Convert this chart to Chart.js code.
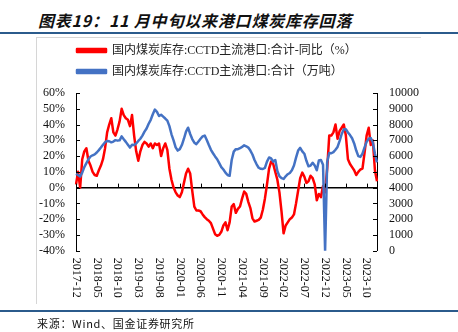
<!DOCTYPE html>
<html>
<head>
<meta charset="utf-8">
<script src="https://cdn.jsdelivr.net/npm/chart.js@4.4.1/dist/chart.umd.min.js"></script>
<style>
  html, body { margin: 0; padding: 0; background: #fff; }
  #wrap { position: relative; width: 458px; height: 332px; overflow: hidden; background: #fff; }
  #c { position: absolute; left: 0; top: 0; }
  .title { position: absolute; left: 38px; top: 11px; font: italic bold 16px "Noto Sans CJK SC"; line-height: 18px; letter-spacing: 0.8px; color: #111; white-space: nowrap; }
  .rule { position: absolute; left: 0; width: 458px; height: 2px; background: #2b5b8c; }
  .frameTop { position: absolute; left: 36px; top: 37px; width: 385px; height: 1px; background: #d6d6d6; }
  .frameLeft { position: absolute; left: 36px; top: 37px; width: 1px; height: 267px; background: #d6d6d6; }
  .src { position: absolute; left: 37px; top: 315px; font: 11px "Noto Sans CJK SC"; line-height: 16px; letter-spacing: 0.7px; color: #111; white-space: nowrap; }
</style>
</head>
<body>
<div id="wrap">
  <div class="title">图表19：11 月中旬以来港口煤炭库存回落</div>
  <div class="rule" style="top:32px"></div>
  <div class="frameTop"></div>
  <div class="frameLeft"></div>
  <canvas id="c" width="458" height="332"></canvas>
  <div class="rule" style="top:310px"></div>
  <div class="src">来源：Wind、国金证券研究所</div>
</div>
<script>
// ---- data (half-month periods, 2017-12 .. 2023-12) ----
const legendNames = ['国内煤炭库存:CCTD主流港口:合计-同比（%）', '国内煤炭库存:CCTD主流港口:合计（万吨）'];
const tickLabels = ['2017-12','2018-05','2018-10','2019-03','2019-08','2020-01','2020-06','2020-11','2021-04','2021-09','2022-02','2022-07','2022-12','2023-05','2023-10'];

const periods = [];
for (let y = 2017, m = 12; y < 2024; ) {
  const ym = y + '-' + String(m).padStart(2, '0');
  periods.push(ym + '上', ym + '下');
  m++; if (m > 12) { m = 1; y++; }
}

// 同比 (%)
const yoyPct = [
  2, 10, 0, 18, 23, 25, 17, 14, 10, 8, 7.5, 11,
  14, 18, 25, 35, 40, 44, 35, 33, 37, 42, 50, 46,
  44, 43, 39, 46, 33, 23, 17, 23, 27, 29, 28, 26,
  28, 25, 28, 27, 28, 20, 25, 28, 24, 12, 5, 0,
  -3, -5, -6, -3, 3, 9, 12, 9, -2, -12, -14.5, -14.5,
  -15, -17, -18.7, -20, -21, -22.5, -26, -29.5, -30.5, -30, -28, -24,
  -22, -27, -22, -12, -10.5, -16, -13.5, -12, -7, -2.5, -4, -9,
  -13, -19.5, -21.5, -21, -20.5, -19, -14, -7, 2, 12, 16.5, 15,
  10, 5, -3, -15, -29, -24, -22, -20, -19, -17, -10, -2,
  6, 9.5, 7, 3, 4, 7.5, 6, 2, -8, -4, -6, 1,
  -3, 12, 33, 33, 35, 40, 31, 36, 38, 40, 33, 18,
  15, 13, 11, 8, 10, 11.5, 12, 22, 33, 38, 27, 30,
  11, 4
];

// 库存 (万吨)
const stockWanTon = [
  4868, 4800, 4700, 4950, 5300, 5550, 5800, 5970, 6050, 6110, 6230, 6380,
  6540, 6720, 6880, 6960, 6940, 6870, 6920, 7010, 6980, 7000, 7250, 7070,
  6900, 6720, 6540, 6720, 6700, 6800, 6960, 7100, 7300, 7550, 7750, 8050,
  8300, 8650, 8950, 8800, 8540, 8620, 8500, 8380, 8250, 7900, 7380, 7000,
  6550, 6350, 6440, 6700, 7100, 7550, 7800, 7400, 7080, 6850, 6760, 6930,
  7100, 7250, 7300, 7020, 6700, 6400, 6180, 5980, 5800, 5550, 5300, 5150,
  4950, 4800, 4750, 5750, 6280, 6440, 6440, 6500, 6580, 6680, 6620, 6540,
  6350, 6100, 5750, 5480, 5260, 5190, 5180, 5250, 5650, 5910, 5850, 5650,
  5750, 5050, 4720, 4600, 4550, 4720, 4850, 4930, 5100, 5400, 5900, 6350,
  6520, 6300, 6150, 5700, 5350, 5400, 5580, 5400, 5100, 5720, 5750, 5450,
  0, 5620, 6200, 6180, 6250, 6400, 6580, 6960, 7400, 7700, 7700, 7500,
  7330, 7130, 6800, 6350, 6000, 5950, 6150, 6550, 6900, 7100, 7150, 6860,
  6150, 5600
];

const tickFont = { family: '"Liberation Serif", "Noto Sans CJK SC"', size: 12 };
const legendExtra = 5.5;
const legendIndent = 68;

const legendGap = {
  id: 'legendGap',
  beforeUpdate(chart) {
    const lg = chart.legend;
    if (lg && !lg._gapPatched) {
      const fit = lg.fit;
      lg.fit = function () { fit.call(this); this.height += legendExtra; };
      lg._gapPatched = true;
    }
  },
  afterLayout(chart) {
    if (chart.legend) chart.legend.left += legendIndent;
  }
};

const tickMarks = {
  id: 'tickMarks',
  afterDatasetsDraw(chart) {
    const { ctx, scales: { x, y, y1 } } = chart;
    ctx.save();
    ctx.strokeStyle = '#000';
    ctx.lineWidth = 1;
    ctx.beginPath();
    y.ticks.forEach(t => {
      const py = Math.round(y.getPixelForValue(t.value)) + 0.5;
      ctx.moveTo(y.right, py); ctx.lineTo(y.right + 4, py);
    });
    y1.ticks.forEach(t => {
      const py = Math.round(y1.getPixelForValue(t.value)) + 0.5;
      ctx.moveTo(y1.left - 4, py); ctx.lineTo(y1.left, py);
    });
    const y0 = y.getPixelForValue(0);
    tickLabels.forEach(l => {
      const px = Math.round(x.getPixelForValue(periods.indexOf(l + '上'))) + 0.5;
      ctx.moveTo(px, y0 - 4); ctx.lineTo(px, y0);
    });
    ctx.stroke();
    ctx.restore();
  }
};

const xLabels = {
  id: 'xLabels',
  afterDraw(chart) {
    const { ctx, scales: { x }, chartArea } = chart;
    ctx.save();
    ctx.font = '12px "Liberation Serif"';
    ctx.fillStyle = '#111';
    ctx.textAlign = 'left';
    ctx.textBaseline = 'middle';
    tickLabels.forEach(l => {
      const px = x.getPixelForValue(periods.indexOf(l + '上'));
      ctx.save();
      ctx.translate(px, chartArea.bottom + 7);
      ctx.rotate(Math.PI / 2);
      ctx.fillText(l, 0, 0);
      ctx.restore();
    });
    ctx.restore();
  }
};

new Chart(document.getElementById('c'), {
  type: 'line',
  data: {
    labels: periods,
    datasets: [
      { label: legendNames[0], data: yoyPct, yAxisID: 'y', borderColor: '#FF0000', backgroundColor: '#FF0000',
        borderWidth: 2.5, pointRadius: 0, tension: 0, borderJoinStyle: 'round', order: 1 },
      { label: legendNames[1], data: stockWanTon, yAxisID: 'y1', borderColor: '#4472C4', backgroundColor: '#4472C4',
        borderWidth: 2.5, pointRadius: 0, tension: 0, borderJoinStyle: 'round', order: 0 }
    ]
  },
  options: {
    responsive: false,
    animation: false,
    devicePixelRatio: 1,
    layout: { padding: { top: 35.5, left: 0, right: 0, bottom: 0 } },
    plugins: {
      legend: {
        display: true, position: 'top', align: 'start',
        labels: {
          boxWidth: 29, boxHeight: 3, padding: 9, color: '#222',
          font: { family: '"Liberation Serif", "Noto Sans CJK SC"', size: 12 },
          sort: (a, b) => a.datasetIndex - b.datasetIndex
        }
      },
      tooltip: { enabled: false }
    },
    scales: {
      x: {
        type: 'category', offset: false,
        ticks: { display: false }, grid: { display: false }, border: { display: false },
        afterFit(s) { s.height = 81.3; }
      },
      y: {
        position: 'left', min: -40, max: 60,
        ticks: { stepSize: 10, autoSkip: false, padding: 11, color: '#111', font: tickFont, callback: v => v + '%' },
        grid: { color: c => (c.tick && c.tick.value === 0) ? '#000' : 'rgba(0,0,0,0)', lineWidth: 1.5, drawTicks: false },
        border: { display: true, color: '#000', width: 1 },
        afterFit(s) { s.width = 76; }
      },
      y1: {
        position: 'right', min: 0, max: 10000,
        ticks: { stepSize: 1000, autoSkip: false, padding: 12, color: '#111', font: tickFont, callback: v => String(v) },
        grid: { display: false, drawTicks: false },
        border: { display: true, color: '#000', width: 1 },
        afterFit(s) { s.width = 81; }
      }
    }
  },
  plugins: [legendGap, tickMarks, xLabels]
});
</script>
</body>
</html>
